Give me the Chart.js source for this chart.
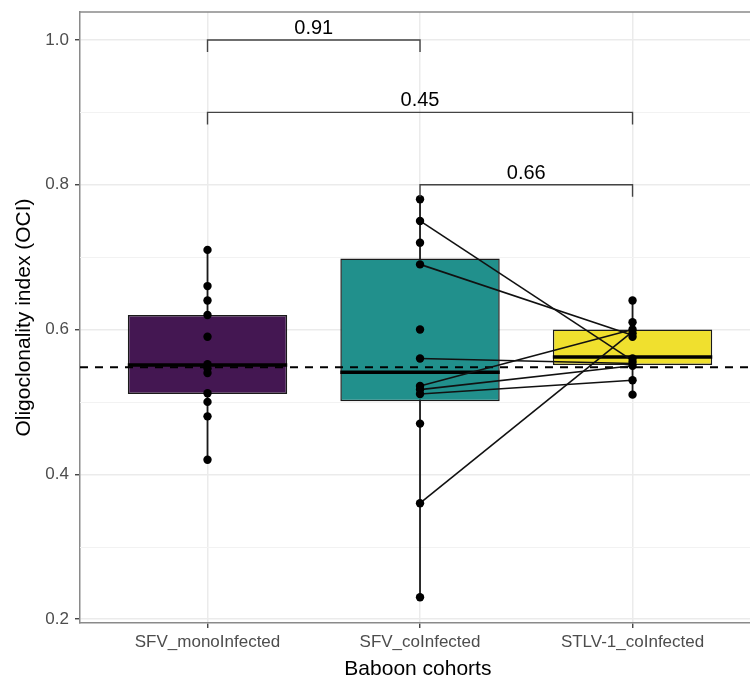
<!DOCTYPE html>
<html><head><meta charset="utf-8">
<script src="https://cdn.jsdelivr.net/npm/chart.js@4.4.1/dist/chart.umd.min.js"></script>
<style>html,body{margin:0;padding:0;background:#fff;overflow:hidden}#wrap{width:750px;height:682px;overflow:hidden}</style>
</head><body><div id="wrap"><canvas id="c" width="760" height="682"></canvas></div>
<script>
const categories = ['SFV_monoInfected', 'SFV_coInfected', 'STLV-1_coInfected'];
const boxQ1 = [0.511, 0.501, 0.551];
const boxMedian = [0.551, 0.541, 0.562];
const boxQ3 = [0.620, 0.698, 0.600];
const whiskerLow = [0.42, 0.23, 0.51];
const whiskerHigh = [0.71, 0.78, 0.64];
const monoPoints = [0.71, 0.66, 0.64, 0.62, 0.59, 0.552, 0.546, 0.54, 0.512, 0.50, 0.48, 0.42];
const coPoints = [0.78, 0.75, 0.72, 0.69, 0.60, 0.56, 0.522, 0.517, 0.511, 0.47, 0.36, 0.23];
const stlvPoints = [0.64, 0.61, 0.60, 0.595, 0.59, 0.56, 0.555, 0.55, 0.53, 0.51];
const pairedCo = [0.75, 0.69, 0.56, 0.522, 0.517, 0.511, 0.36];
const pairedStlv = [0.557, 0.592, 0.553, 0.60, 0.55, 0.53, 0.597];
const referenceLine = 0.548;
const bracketFrom = [1, 1, 2];
const bracketTo = [2, 3, 3];
const bracketY = [1.0, 0.9, 0.8];
const bracketLabels = ['0.91', '0.45', '0.66'];
const yTicks = [0.2, 0.4, 0.6, 0.8, 1.0];
const yMinorTicks = [0.3, 0.5, 0.7, 0.9];
const boxColors = ['#441752', '#21908C', '#F0E02E'];

const FONT = "'Liberation Sans', Arial, sans-serif";
const groupPoints = [monoPoints, coPoints, stlvPoints];

const datasets = [];
categories.forEach((c, i) => {
  datasets.push({
    type: 'line', order: 10,
    data: [{x: i + 1, y: whiskerLow[i]}, {x: i + 1, y: whiskerHigh[i]}],
    borderColor: '#1a1a1a', borderWidth: 1.8, pointRadius: 0, fill: false
  });
});
datasets.push({
  type: 'bar', order: 8,
  data: categories.map((c, i) => ({x: i + 1, y: [boxQ1[i], boxQ3[i]]})),
  backgroundColor: boxColors, borderColor: '#1a1a1a', borderWidth: 1.5,
  borderSkipped: false, barPercentage: 0.75, categoryPercentage: 1
});
pairedCo.forEach((v, i) => {
  datasets.push({
    type: 'line', order: 2,
    data: [{x: 2, y: v}, {x: 3, y: pairedStlv[i]}],
    borderColor: '#111', borderWidth: 1.6, pointRadius: 0, fill: false
  });
});
groupPoints.forEach((pts, i) => {
  datasets.push({
    type: 'scatter', order: 1,
    data: pts.map(v => ({x: i + 1, y: v})),
    backgroundColor: '#000', borderColor: '#000', pointRadius: 4.2, borderWidth: 0
  });
});

const decor = {
  id: 'decor',
  beforeDatasetsDraw(chart) {
    const {ctx, chartArea: a, scales: {y}} = chart;
    ctx.save();
    ctx.strokeStyle = '#F2F2F2'; ctx.lineWidth = 1;
    yMinorTicks.forEach(v => {
      const py = Math.round(y.getPixelForValue(v)) + 0.5;
      ctx.beginPath(); ctx.moveTo(a.left, py); ctx.lineTo(a.right, py); ctx.stroke();
    });
    ctx.restore();
  },
  afterDatasetDraw(chart, args) {
    if (args.meta.type !== 'bar') return;
    const {ctx, chartArea: a, scales: {y}} = chart;
    ctx.save();
    ctx.beginPath(); ctx.rect(a.left, a.top, a.right - a.left, a.bottom - a.top); ctx.clip();
    args.meta.data.forEach((el, i) => {
      const py = y.getPixelForValue(boxMedian[i]);
      ctx.strokeStyle = '#000'; ctx.lineWidth = 3.5;
      ctx.beginPath(); ctx.moveTo(el.x - el.width / 2, py); ctx.lineTo(el.x + el.width / 2, py); ctx.stroke();
    });
    const ry = y.getPixelForValue(referenceLine);
    ctx.strokeStyle = '#000'; ctx.lineWidth = 2; ctx.setLineDash([8, 7]);
    ctx.beginPath(); ctx.moveTo(a.left, ry); ctx.lineTo(a.right, ry); ctx.stroke();
    ctx.restore();
  },
  afterDraw(chart) {
    const {ctx, chartArea: a, scales: {x, y}} = chart;
    ctx.save();
    ctx.strokeStyle = '#8a8a8a'; ctx.lineWidth = 1.5;
    ctx.beginPath(); ctx.moveTo(a.left, a.top); ctx.lineTo(a.right, a.top); ctx.stroke();
    ctx.strokeStyle = '#444'; ctx.lineWidth = 1.4;
    ctx.fillStyle = '#000'; ctx.font = '20px ' + FONT;
    ctx.textAlign = 'center'; ctx.textBaseline = 'alphabetic';
    bracketLabels.forEach((lab, i) => {
      const x1 = x.getPixelForValue(bracketFrom[i]);
      const x2 = x.getPixelForValue(bracketTo[i]);
      const py = y.getPixelForValue(bracketY[i]);
      ctx.beginPath();
      ctx.moveTo(x1, py + 12); ctx.lineTo(x1, py); ctx.lineTo(x2, py); ctx.lineTo(x2, py + 12);
      ctx.stroke();
      ctx.fillText(lab, (x1 + x2) / 2, py - 6);
    });
    ctx.restore();
  }
};

new Chart(document.getElementById('c'), {
  type: 'scatter',
  data: {datasets},
  plugins: [decor],
  options: {
    responsive: false, animation: false, events: [],
    layout: {padding: {top: 12, left: 0, right: 0, bottom: 0}},
    plugins: {legend: {display: false}, tooltip: {enabled: false}},
    scales: {
      x: {
        type: 'linear', min: 0.4, max: 3.58, offset: false,
        afterBuildTicks: s => { s.ticks = categories.map((c, i) => ({value: i + 1})); },
        afterFit: s => { s.height = 59; s.paddingLeft = 0; s.paddingRight = 0; },
        ticks: {
          callback: v => categories[v - 1], autoSkip: false, maxRotation: 0,
          color: '#4D4D4D', font: {family: FONT, size: 17}, padding: 4
        },
        grid: {color: '#EBEBEB', lineWidth: 1.5, offset: false, drawTicks: true, tickLength: 5, tickColor: '#333', tickWidth: 1.3},
        border: {display: true, color: '#8a8a8a', width: 1.5},
        title: {display: true, text: 'Baboon cohorts', color: '#000', font: {family: FONT, size: 21}, padding: {top: 0, bottom: 0}}
      },
      y: {
        type: 'linear', min: 0.1945, max: 1.0387, beginAtZero: false,
        afterBuildTicks: s => { s.ticks = yTicks.map(v => ({value: v})); },
        afterFit: s => { s.width = 80; s.paddingTop = 0; s.paddingBottom = 0; },
        ticks: {
          callback: v => v.toFixed(1), color: '#4D4D4D', font: {family: FONT, size: 17}, padding: 6
        },
        grid: {color: '#EBEBEB', lineWidth: 1.5, drawTicks: true, tickLength: 5, tickColor: '#333', tickWidth: 1.3},
        border: {display: true, color: '#8a8a8a', width: 1.5},
        title: {display: true, text: 'Oligoclonality index (OCI)', color: '#000', font: {family: FONT, size: 21}, padding: {top: 12, bottom: 0}}
      }
    }
  }
});
</script>
</body></html>
